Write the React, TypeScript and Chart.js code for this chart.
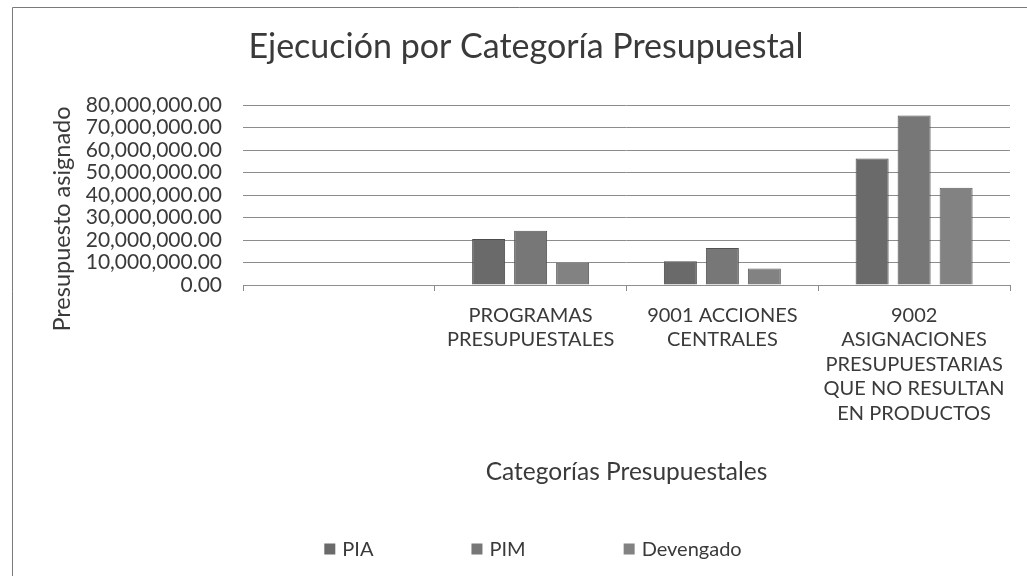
import React, { useEffect, useRef } from "react";
import { Chart, registerables } from "chart.js";

Chart.register(...registerables);

const categories: (string | string[])[] = [
  "",
  ["PROGRAMAS", "PRESUPUESTALES"],
  ["9001 ACCIONES", "CENTRALES"],
  ["9002", "ASIGNACIONES", "PRESUPUESTARIAS", "QUE NO RESULTAN", "EN PRODUCTOS"],
];

const seriesNames = ["PIA", "PIM", "Devengado"];
const pia = [null, 20500000, 10600000, 56200000];
const pim = [null, 24100000, 16500000, 75300000];
const devengado = [null, 9900000, 7300000, 43200000];

const yMin = 0;
const yMax = 80000000;
const yStep = 10000000;

const titleText = "Ejecución por Categoría Presupuestal";
const yTitleText = "Presupuesto asignado";
const xTitleText = "Categorías Presupuestales";

const colors = ["#6a6a6a", "#777777", "#828282"];
const borderColors = ["#4c4c4c", "#535353", "#5c5c5c"];
const FONT = "Lato, 'Open Sans', sans-serif";
const TEXT = "#3a3a3a";

const framePlugin = {
  id: "frame",
  beforeDraw(chart: any) {
    const ctx = chart.ctx;
    ctx.save();
    ctx.fillStyle = "#ffffff";
    ctx.fillRect(0, 0, chart.width, chart.height);
    ctx.strokeStyle = "#7a7a7a";
    ctx.lineWidth = 1;
    ctx.beginPath();
    ctx.moveTo(12.5, chart.height);
    ctx.lineTo(12.5, 7.5);
    ctx.lineTo(chart.width, 7.5);
    ctx.stroke();
    ctx.restore();
  },
};

const yTitlePlugin = {
  id: "yTitleCustom",
  afterDraw(chart: any) {
    const ctx = chart.ctx;
    ctx.save();
    ctx.translate(62, 219);
    ctx.rotate(-Math.PI / 2);
    ctx.font = `23.5px ${FONT}`;
    ctx.fillStyle = TEXT;
    ctx.textAlign = "center";
    ctx.textBaseline = "middle";
    ctx.fillText(yTitleText, 0, 0);
    ctx.restore();
  },
};

const legendPlugin = {
  id: "customLegend",
  afterDraw(chart: any) {
    const ctx = chart.ctx;
    ctx.save();
    ctx.font = `20px ${FONT}`;
    const box = 11;
    const gapText = 7;
    const gapItems = 98;
    const items = chart.data.datasets.map((d: any) => ({
      label: d.label,
      color: d.backgroundColor,
      w: box + gapText + ctx.measureText(d.label).width,
    }));
    const total = items.reduce((s: number, it: any) => s + it.w, 0) + gapItems * (items.length - 1);
    let x = 533 - total / 2;
    const cy = 549;
    items.forEach((it: any) => {
      ctx.fillStyle = it.color;
      ctx.fillRect(x, cy - box / 2, box, box);
      ctx.fillStyle = TEXT;
      ctx.textAlign = "left";
      ctx.textBaseline = "middle";
      ctx.fillText(it.label, x + box + gapText, cy + 1);
      x += it.w + gapItems;
    });
    ctx.restore();
  },
};

export default function App() {
  const ref = useRef<HTMLCanvasElement>(null);

  useEffect(() => {
    if (!ref.current) return;
    const chart = new Chart(ref.current, {
      type: "bar",
      data: {
        labels: categories,
        datasets: [
          { label: seriesNames[0], data: pia, backgroundColor: colors[0], borderColor: borderColors[0], borderWidth: 1 },
          { label: seriesNames[1], data: pim, backgroundColor: colors[1], borderColor: borderColors[1], borderWidth: 1 },
          { label: seriesNames[2], data: devengado, backgroundColor: colors[2], borderColor: borderColors[2], borderWidth: 1 },
        ],
      },
      options: {
        responsive: false,
        animation: false,
        layout: { padding: { left: 42, right: 17, top: 0, bottom: 60 } },
        datasets: { bar: { categoryPercentage: 0.657, barPercentage: 0.786 } },
        plugins: {
          legend: { display: false },
          tooltip: { enabled: false },
          title: {
            display: true,
            text: titleText,
            color: TEXT,
            font: { family: FONT, size: 34, weight: "normal", lineHeight: 1.2 },
            padding: { top: 26.6, bottom: 37.6 },
          },
        },
        scales: {
          x: {
            offset: true,
            grid: { display: true, drawOnChartArea: false, drawTicks: true, tickLength: 6, offset: true, color: "#8a8a8a" },
            border: { display: true, color: "#8f8f8f" },
            ticks: {
              color: TEXT,
              font: { family: FONT, size: 20, lineHeight: 1.225 },
              padding: 12,
              maxRotation: 0,
              minRotation: 0,
              autoSkip: false,
            },
            title: {
              display: true,
              text: xTitleText,
              color: TEXT,
              font: { family: FONT, size: 24.5, lineHeight: 1.2 },
              padding: { top: 19.8, bottom: 29.3 },
            },
          },
          y: {
            min: yMin,
            max: yMax,
            afterFit(scale: any) {
              scale.width = 201;
            },
            grid: { color: "#8c8c8c", drawTicks: false },
            border: { display: false },
            ticks: {
              stepSize: yStep,
              autoSkip: false,
              color: TEXT,
              padding: 21,
              font: { family: FONT, size: 21 },
              callback: (v: any) =>
                Number(v).toLocaleString("en-US", { minimumFractionDigits: 2, maximumFractionDigits: 2 }),
            },
            title: { display: false, text: yTitleText },
          },
        },
      },
      plugins: [framePlugin, yTitlePlugin, legendPlugin],
    });
    return () => chart.destroy();
  }, []);

  return (
    <div style={{ position: "fixed", left: 0, top: 0, width: 1027, height: 576, background: "#fff" }}>
      <canvas ref={ref} width={1027} height={576} style={{ width: 1027, height: 576, display: "block" }} />
    </div>
  );
}
